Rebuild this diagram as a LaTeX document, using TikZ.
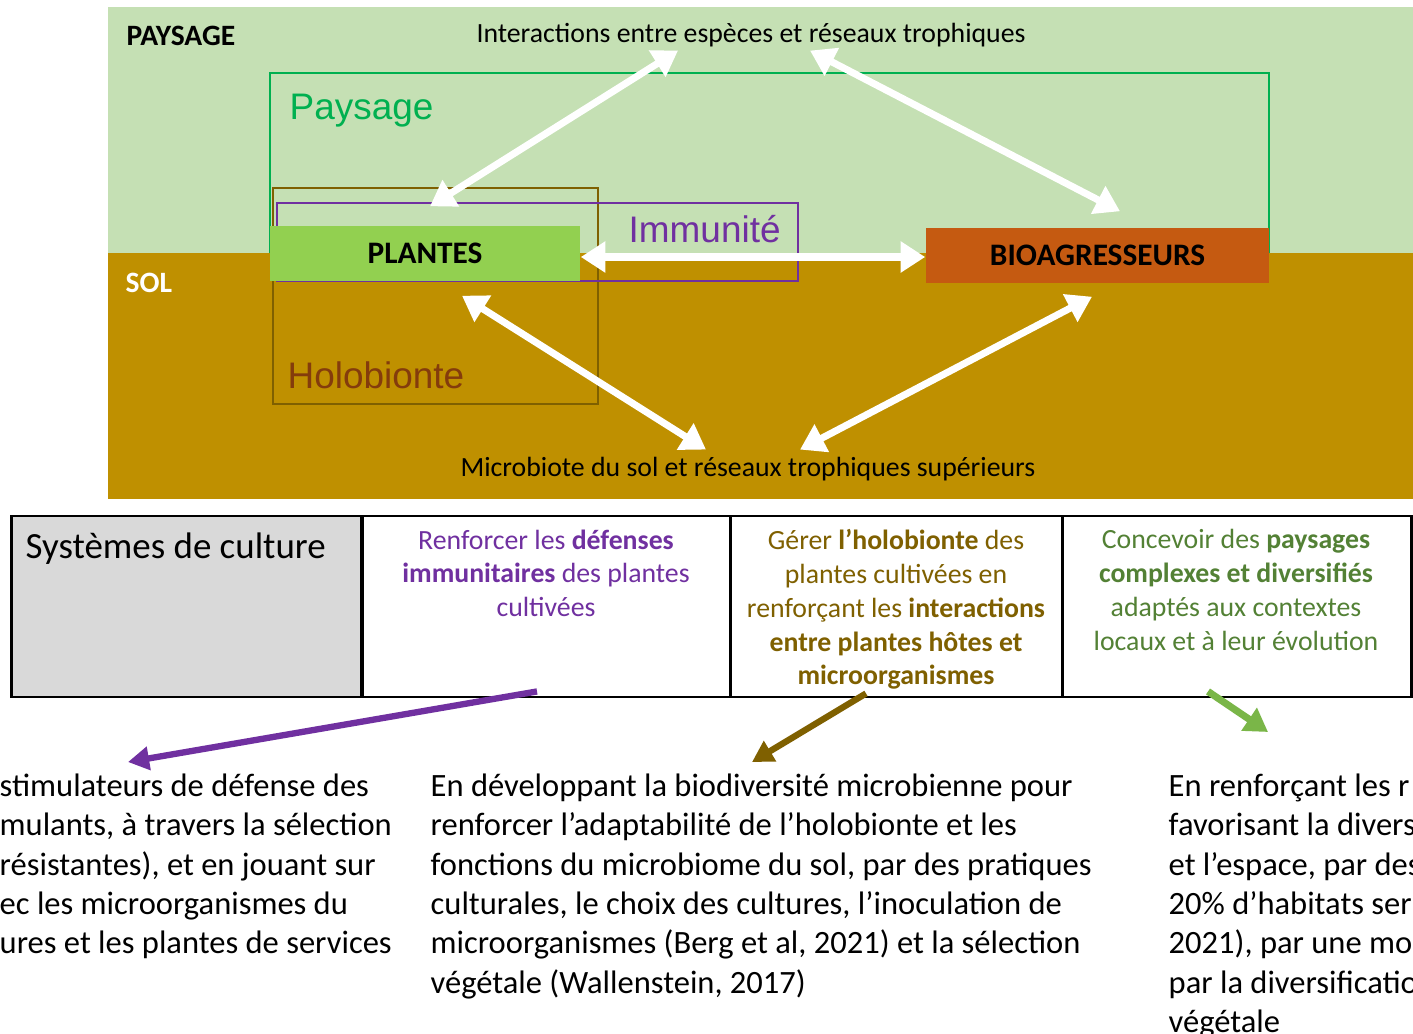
\documentclass[tikz,border=0pt]{standalone}
\usepackage{fontspec}
\setmainfont{Carlito}
\newfontfamily\arialfont{Liberation Sans}
\usetikzlibrary{arrows.meta}

\definecolor{paysagebg}{HTML}{C5E0B4}
\definecolor{solbg}{HTML}{BF9000}
\definecolor{paysageline}{HTML}{00B050}
\definecolor{plantesfill}{HTML}{92D050}
\definecolor{biofill}{HTML}{C55A11}
\definecolor{immuncol}{HTML}{7030A0}
\definecolor{hololine}{HTML}{7F6000}
\definecolor{holotext}{HTML}{843C0C}
\definecolor{greencol}{HTML}{538135}
\definecolor{greenarrow}{HTML}{7AB648}
\definecolor{cellgrey}{HTML}{D9D9D9}

\newcommand{\bodysize}{\fontsize{9.25}{11.2}\selectfont}
\newcommand{\cellsize}{\fontsize{7.9}{9.6}\selectfont}
\newcommand{\smallsize}{\fontsize{7.9}{9.6}\selectfont}
\newcommand{\zonesize}{\fontsize{10.5}{12.6}\selectfont}

\tikzset{
  wharrow/.style={white, line width=2pt,
    {Triangle[length=7pt,width=8.5pt]}-{Triangle[length=7pt,width=8.5pt]}},
  actorbox/.style={minimum height=0.55cm, inner sep=0pt,
    font=\fontsize{8.9}{10.7}\selectfont\bfseries},
  cellbox/.style={draw=black, line width=0.8pt, minimum height=1.81cm, inner sep=0pt},
  celltext/.style={anchor=north, align=center, inner sep=0pt, font=\cellsize},
  bodytext/.style={anchor=north west, align=left, inner sep=0pt, font=\bodysize},
  tagtext/.style={anchor=base west, inner sep=0pt,
    font=\fontsize{8.4}{10}\selectfont\bfseries},
}

\begin{document}
\begin{tikzpicture}[x=0.01cm,y=-0.01cm]
  \useasboundingbox (0,0) rectangle (1413,1034);
  \fill[white] (0,0) rectangle (1413,1034);
  % bands
  \fill[paysagebg] (108,7)   rectangle (1413,253);
  \fill[solbg]     (108,253) rectangle (1413,499);
  \node[tagtext]        (paysagetag) at (126,46) {PAYSAGE};
  \node[tagtext, white] (soltag)     at (125,293) {SOL};
  % zones
  \draw[paysageline, line width=0.8pt] (270,253) -- (270,73) -- (1269,73) -- (1269,253);
  \draw[hololine, line width=0.8pt] (273,188) rectangle (598,404);
  \draw[immuncol, line width=0.8pt] (277,203) rectangle (798,281);
  \node[anchor=base west, inner sep=0pt, font=\zonesize\arialfont, paysageline]
        (paysagelbl) at (289,120) {Paysage};
  \node[anchor=base west, inner sep=0pt, font=\zonesize\arialfont, immuncol]
        (immunlbl)   at (628,243) {Immunité};
  \node[anchor=base west, inner sep=0pt, font=\zonesize\arialfont, holotext]
        (hololbl)    at (287,389) {Holobionte};
  % actors
  \node[actorbox, fill=plantesfill, minimum width=3.10cm] (plantes) at (425,253.5) {PLANTES};
  \node[actorbox, fill=biofill,     minimum width=3.43cm] (bio)     at (1097.5,255.5) {BIOAGRESSEURS};
  \node[anchor=base, inner sep=0pt, font=\smallsize] (inter) at (751,43)
        {Interactions entre espèces et réseaux trophiques};
  \node[anchor=base, inner sep=0pt, font=\smallsize] (micro) at (748,477)
        {Microbiote du sol et réseaux trophiques supérieurs};
  \draw[wharrow] ([shift={(5,-19)}]plantes.north)   -- ([shift={(-73,15)}]inter.center);
  \draw[wharrow] ([shift={(59,15)}]inter.center)    -- ([shift={(22.5,-16)}]bio.north);
  \draw[wharrow] ([shift={(0,3.5)}]plantes.east)    -- ([shift={(0,1.5)}]bio.west);
  \draw[wharrow] ([shift={(37,14)}]plantes.south)   -- ([shift={(-42,-20)}]micro.center);
  \draw[wharrow] ([shift={(-5.5,13)}]bio.south)     -- ([shift={(52,-20)}]micro.center);
  % table
  \node[cellbox, fill=cellgrey, minimum width=3.50cm] (cellA) at (187,606.5) {};
  \node[cellbox, minimum width=3.68cm] (cellB) at (546,606.5) {};
  \node[cellbox, minimum width=3.32cm] (cellC) at (896,606.5) {};
  \node[cellbox, minimum width=3.49cm] (cellD) at (1236.5,606.5) {};
  \node[anchor=base west, inner sep=0pt, font=\zonesize] (systlbl) at (25,558) {Systèmes de culture};
  \node[celltext, text=immuncol] (immuntxt) at (546,529)
        {Renforcer les \textbf{défenses}\\ \textbf{immunitaires} des plantes\\ cultivées};
  \node[celltext, text=hololine] (holotxt) at (896,529)
        {Gérer \textbf{l’holobionte} des\\ plantes cultivées en\\ renforçant les \textbf{interactions}\\
         \textbf{entre plantes hôtes et}\\ \textbf{microorganismes}};
  \node[celltext, text=greencol] (paystxt) at (1236,529)
        {Concevoir des \textbf{paysages}\\ \textbf{complexes et diversifiés}\\ adaptés aux contextes\\
         locaux et à leur évolution};
  % texts below
  \node[bodytext] (lefttxt) at (-1,773)
        {stimulateurs de défense des\\ mulants, à travers la sélection\\ résistantes), et en jouant sur\\
         ec les microorganismes du\\ ures et les plantes de services};
  \node[bodytext] (midtxt) at (430,773)
        {En développant la biodiversité microbienne pour\\ renforcer l’adaptabilité de l’holobionte et les\\
         fonctions du microbiome du sol, par des pratiques\\ culturales, le choix des cultures, l’inoculation de\\
         microorganismes (Berg et al, 2021) et la sélection\\ végétale (Wallenstein, 2017)};
  \node[bodytext] (righttxt) at (1168,773)
        {En renforçant les r\\ favorisant la divers\\ et l’espace, par des\\ 20\% d’habitats ser\\
         2021), par une mo\\ par la diversificatio\\ végétale};
  \draw[immuncol, line width=1.8pt, -{Triangle[length=6pt,width=6.5pt]}]
        ([shift={(-9,-7)}]cellB.south) -- ([shift={(129,-11)}]lefttxt.north west);
  \draw[hololine, line width=1.8pt, -{Triangle[length=6pt,width=6.5pt]}]
        ([shift={(-30,-5)}]cellC.south) -- ([shift={(322,-11)}]midtxt.north west);
  \draw[greenarrow, line width=2pt, -{Triangle[length=6.5pt,width=7.5pt]}]
        ([shift={(-28.5,-7)}]cellD.south) -- ([shift={(100,-41)}]righttxt.north west);
\end{tikzpicture}
\end{document}
